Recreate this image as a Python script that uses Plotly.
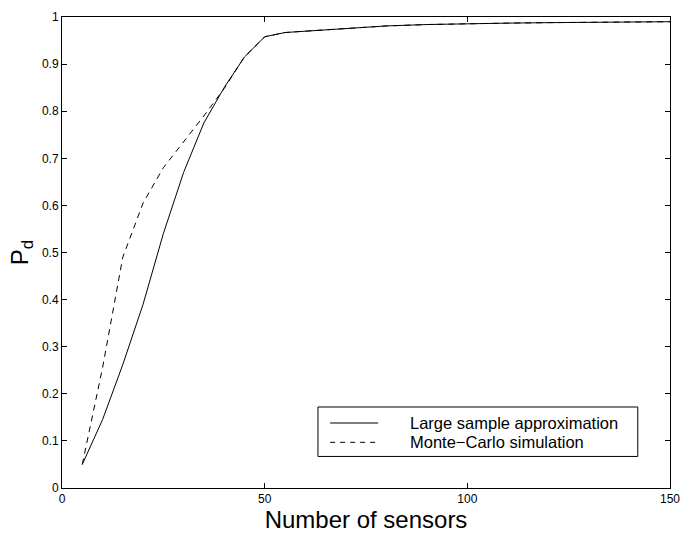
import plotly.graph_objects as go

# Detection probability versus number of sensors
sensors = [5, 10, 15, 20, 25, 30, 35, 40, 45, 50, 55, 60, 70, 80, 90, 100, 110, 120, 130, 140, 150]
pd_large_sample = [0.05, 0.145, 0.262, 0.39, 0.54, 0.67, 0.775, 0.85, 0.915, 0.958, 0.967,
                   0.970, 0.976, 0.981, 0.984, 0.986, 0.987, 0.988, 0.989, 0.989, 0.99]
pd_monte_carlo = [0.05, 0.255, 0.49, 0.605, 0.68, 0.735, 0.79, 0.848, 0.915, 0.958, 0.967,
                  0.970, 0.976, 0.981, 0.984, 0.986, 0.987, 0.988, 0.989, 0.989, 0.99]
series_names = ["Large sample approximation", "Monte\u2212Carlo simulation"]

x_ticks = [0, 50, 100, 150]
y_ticks = [0, 0.1, 0.2, 0.3, 0.4, 0.5, 0.6, 0.7, 0.8, 0.9, 1]
y_tick_text = ["0", "0.1", "0.2", "0.3", "0.4", "0.5", "0.6", "0.7", "0.8", "0.9", "1"]

FONT = "Liberation Sans, Arial, Helvetica, sans-serif"

fig = go.Figure()
fig.add_trace(go.Scatter(x=sensors, y=pd_monte_carlo, mode="lines", name=series_names[1],
                         line=dict(color="black", width=1, dash="6px,5px"), showlegend=False))
fig.add_trace(go.Scatter(x=sensors, y=pd_large_sample, mode="lines", name=series_names[0],
                         line=dict(color="black", width=1), showlegend=False))

axis_common = dict(showgrid=False, zeroline=False, showline=True, linecolor="black",
                   linewidth=1, mirror="ticks", ticks="inside", ticklen=5,
                   tickcolor="black", tickfont=dict(family=FONT, size=12, color="black"))

fig.update_xaxes(range=[0, 150], tickvals=x_ticks, ticktext=[str(v) for v in x_ticks],
                 title=dict(text="Number of sensors", font=dict(family=FONT, size=24, color="black"),
                            standoff=3),
                 **axis_common)
fig.update_yaxes(range=[0, 1], tickvals=y_ticks, ticktext=y_tick_text,
                 title=dict(text="P<sub>d</sub>", font=dict(family=FONT, size=24, color="black"),
                            standoff=6),
                 **axis_common)

# Boxed legend drawn in paper coordinates
box_x0, box_x1, box_y0, box_y1 = 0.421, 0.947, 0.067, 0.172
fig.add_shape(type="rect", xref="paper", yref="paper", x0=box_x0, x1=box_x1, y0=box_y0, y1=box_y1,
              line=dict(color="black", width=1), fillcolor="white", layer="above")
rows = [(0.138, "solid"), (0.097, "5px,5px")]
for name, (ry, dash) in zip(series_names, rows):
    fig.add_shape(type="line", xref="paper", yref="paper", x0=0.441, x1=0.520, y0=ry, y1=ry,
                  line=dict(color="black", width=1, dash=dash), layer="above")
    fig.add_annotation(xref="paper", yref="paper", x=0.570, y=ry, xanchor="left", yanchor="middle",
                       text=name, showarrow=False, borderpad=0,
                       font=dict(family=FONT, size=16.5, color="black"))

fig.update_layout(width=699, height=536, margin=dict(l=62, r=29, t=10, b=48),
                  plot_bgcolor="white", paper_bgcolor="white",
                  font=dict(family=FONT, color="black"))

fig.write_html("out.html")
